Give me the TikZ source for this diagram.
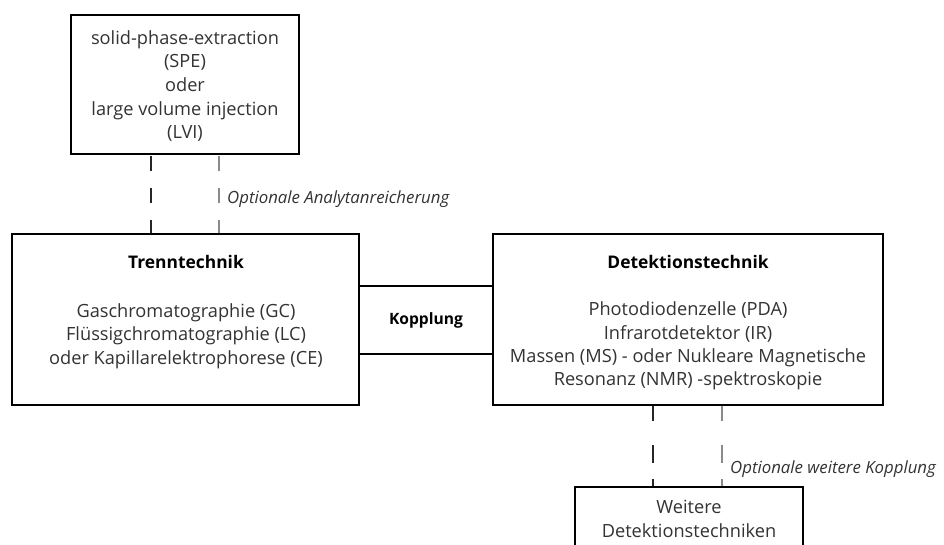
\documentclass[tikz,border=0pt]{standalone}
\usepackage{fontspec}
\setmainfont{Open Sans}
\definecolor{txt}{HTML}{333333}
\definecolor{lgrey}{HTML}{8A8A8A}
\begin{document}
\begin{tikzpicture}[x=1pt,y=-1pt,
  box/.style={draw=black,line width=2.4pt,fill=white},
  body/.style={font=\fontsize{18.2}{23.3}\selectfont,text=txt,align=center,inner sep=0pt},
  head/.style={font=\fontsize{17.4}{23.5}\selectfont\bfseries,text=black,inner sep=0pt},
  lab/.style={font=\fontsize{16.8}{18}\selectfont\itshape,text=txt,inner sep=0pt,anchor=west},
  dk/.style={draw=black!85,line width=1.3pt},
  lg/.style={draw=lgrey,line width=1.3pt}]
\useasboundingbox (0,0) rectangle (944,544);
\clip (0,0) rectangle (944,544);
\fill[white] (0,0) rectangle (944,544);
% boxes
\draw[box] (71,15) rectangle (299,154);
\draw[box] (12,234) rectangle (359,405);
\draw[box] (493,234) rectangle (883,405);
\draw[box] (575,487) rectangle (803,570);
% top box text
\node[body,font=\fontsize{18.2}{23.6}\selectfont] (spet) at (185,86) {solid-phase-extraction\\(SPE)\\oder\\large volume injection\\(LVI)};
% Trenn
\node[head] (trh) at (186,262) {Trenntechnik};
\node[body] (trb) at (186,336) {Gaschromatographie (GC)\\Flüssigchromatographie (LC)\\oder Kapillarelektrophorese (CE)};
% Detektion
\node[head] (deh) at (688,262) {Detektionstechnik};
\node[body] (deb) at (688,346) {Photodiodenzelle (PDA)\\Infrarotdetektor (IR)\\Massen (MS) - oder Nukleare Magnetische\\Resonanz (NMR) -spektroskopie};
% Weitere
\node[body] (wt) at (689,519) {Weitere\\Detektionstechniken};
% Kopplung
\node[head,font=\fontsize{15.6}{18}\selectfont\bfseries] (kop) at (426,320) {Kopplung};
\coordinate (k1a) at (360,286); \coordinate (k1b) at (492,286);
\coordinate (k2a) at (360,354); \coordinate (k2b) at (492,354);
\draw[line width=1.2pt] (k1a) -- (k1b);
\draw[line width=1.2pt] (k2a) -- (k2b);
% top dashed
\coordinate (a1) at (151,155.5); \coordinate (a2) at (151,233);
\coordinate (b1) at (219,155.5); \coordinate (b2) at (219,233);
\draw[dk,dash pattern=on 15pt off 17pt] (a1) -- (a2);
\draw[lg,dash pattern=on 15pt off 17pt] (b1) -- (b2);
\node[lab] (l1) at (227,199) {Optionale Analytanreicherung};
% bottom dashed
\coordinate (c1) at (653,406); \coordinate (c2) at (653,486);
\coordinate (d1) at (722,406); \coordinate (d2) at (722,486);
\draw[dk,dash pattern=on 15pt off 24pt on 18pt off 16pt] (c1) -- (c2);
\draw[lg,dash pattern=on 15pt off 24pt on 18pt off 16pt] (d1) -- (d2);
\node[lab] (l2) at (730,469) {Optionale weitere Kopplung};
\end{tikzpicture}
\end{document}
